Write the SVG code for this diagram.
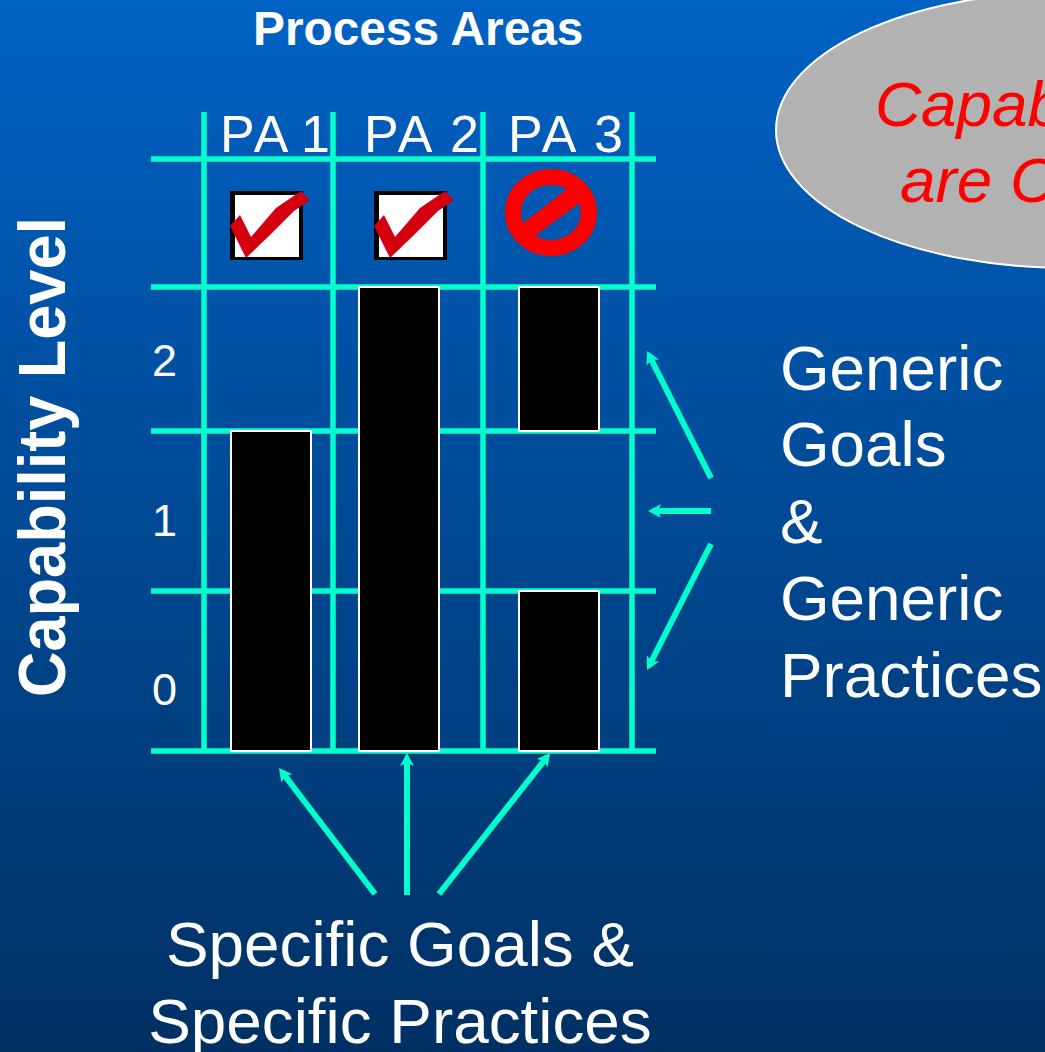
<svg xmlns="http://www.w3.org/2000/svg" width="1045" height="1052" viewBox="0 0 1045 1052">
<style>
text{font-family:"Liberation Sans",Arial,sans-serif;fill:#fff}
.g{stroke:#00ffcc;stroke-width:5.500;fill:none}
.a{stroke:#00ffcc;stroke-width:6;fill:none;marker-end:url(#ah)}
.b{fill:#000;stroke:#fff;stroke-width:2}
.l{font-size:63.800px}
.n{font-size:45px}
.p{font-size:52px;letter-spacing:3px}
.r{font-size:63.800px;font-style:italic;fill:#f00}
.c{fill:#d40010}
</style>
<defs>
<linearGradient id="bg" x1="0" y1="0" x2="0" y2="1"><stop offset="0" stop-color="#0062c4"/><stop offset="1" stop-color="#003063"/></linearGradient>
<marker id="ah" markerUnits="userSpaceOnUse" markerWidth="14" markerHeight="14" refX="8" refY="7" orient="auto"><path d="M0 0L13 7L0 14L3 7Z" fill="#00ffcc"/></marker>
</defs>
<rect width="1045" height="1052" fill="url(#bg)"/>
<g id="callout">
<ellipse cx="1068" cy="130" rx="292" ry="138" fill="#b2b2b2" stroke="#fff" stroke-width="2"/>
<text class="r" x="875" y="126">Capab</text>
<text class="r" x="900" y="202">are C</text>
</g>
<g id="title"><text x="253" y="45" font-size="47.800" font-weight="bold">Process Areas</text></g>
<g id="axis-label"><text transform="translate(65 697) rotate(-90)" font-size="67" font-weight="bold" textLength="480" lengthAdjust="spacingAndGlyphs">Capability Level</text></g>
<g id="grid">
<path class="g" d="M204 112V751M333 112V751M483 112V751M632 112V751M151 159H656M151 287H656M151 431H656M151 591H656M151 751H656"/>
</g>
<g id="bars">
<rect class="b" x="231" y="431" width="80" height="320"/>
<rect class="b" x="359" y="287" width="80" height="464"/>
<rect class="b" x="519" y="287" width="80" height="144"/>
<rect class="b" x="519" y="591" width="80" height="160"/>
</g>
<g id="pa-1"><text class="p" x="220" y="152">PA <tspan dx="-5">1</tspan></text>
<rect x="230" y="191" width="73" height="69" fill="#000"/><rect x="235" y="195" width="64" height="62" fill="#fff"/>
<path class="c" d="M230 226L240 215L251 237L276 208L301 191L310 200L294 211L271 234L246 258Z"/></g>
<g id="pa-2"><text class="p" x="364" y="152">PA 2</text>
<rect x="374" y="191" width="73" height="69" fill="#000"/><rect x="379" y="195" width="64" height="62" fill="#fff"/>
<path class="c" d="M374 226L384 215L395 237L420 208L445 191L454 200L438 211L415 234L390 258Z"/></g>
<g id="pa-3"><text class="p" x="508" y="152">PA 3</text>
<g id="no-sign"><ellipse cx="551" cy="212.500" rx="38" ry="35.500" fill="none" stroke="#f00" stroke-width="16"/>
<path d="M521 225L567 189L582 201L535 236Z" fill="#f00"/></g></g>
<g id="level-labels">
<text class="n" x="152" y="376">2</text>
<text class="n" x="152" y="536">1</text>
<text class="n" x="152" y="705">0</text>
</g>
<g id="connectors">
<path class="a" d="M711 478L649.200 355.500"/>
<path class="a" d="M711 511L653 511"/>
<path class="a" d="M711 544L649.300 665.500"/>
<path class="a" d="M375 894L282 772"/>
<path class="a" d="M407 895L407 758"/>
<path class="a" d="M439 894L547 757"/>
</g>
<g id="generic-label">
<text class="l" x="780" y="390">Generic</text>
<text class="l" x="780" y="466">Goals</text>
<text class="l" x="780" y="543">&amp;</text>
<text class="l" x="780" y="620">Generic</text>
<text class="l" x="780" y="697">Practices</text>
</g>
<g id="specific-label">
<text class="l" x="400" y="966" text-anchor="middle">Specific Goals &amp;</text>
<text class="l" x="400" y="1043" text-anchor="middle">Specific Practices</text>
</g>
</svg>
